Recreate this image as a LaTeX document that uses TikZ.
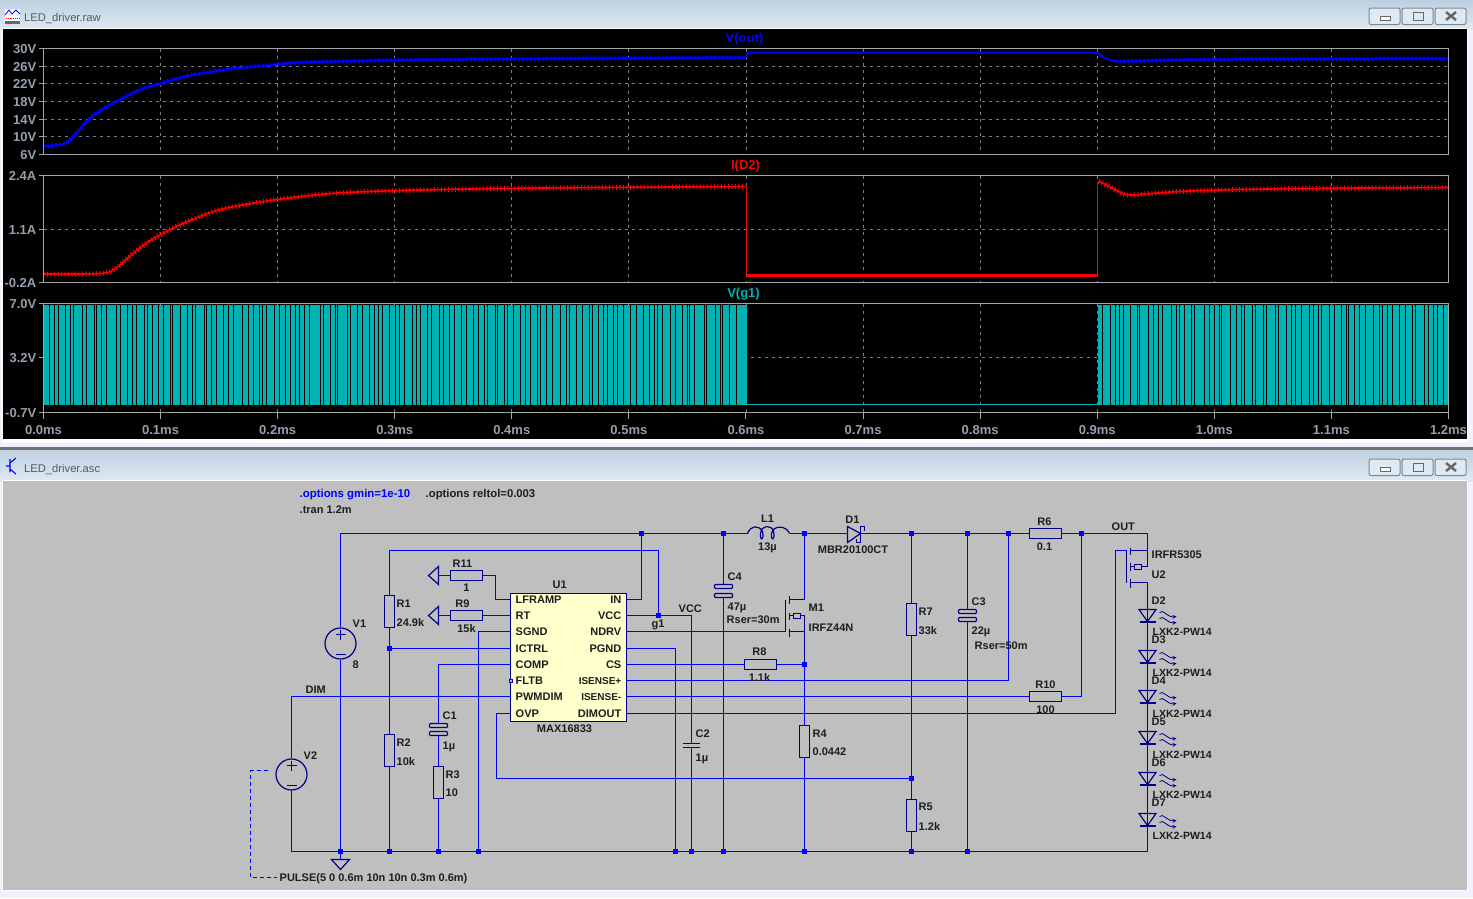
\documentclass[tikz,border=0pt]{standalone}
\usepackage{fontspec}
\setmainfont{Liberation Sans}
\definecolor{wirec}{RGB}{0,0,255}
\definecolor{compc}{RGB}{0,0,140}
\definecolor{txtc}{RGB}{30,30,30}
\definecolor{axisc}{RGB}{150,160,172}
\definecolor{gridc}{RGB}{125,125,125}
\definecolor{framec}{RGB}{165,165,165}
\definecolor{paper}{RGB}{191,191,191}
\definecolor{chipc}{RGB}{255,255,204}
\definecolor{tealc}{RGB}{0,178,178}
\definecolor{barhi}{RGB}{190,208,224}
\definecolor{barlo}{RGB}{222,233,243}
\newcommand{\narrowfont}{\fontsize{10}{12}\selectfont\bfseries}
\tikzset{
	wire/.style={draw=wirec,line width=1.8pt},
	comp/.style={draw=compc,line width=1.2pt},
	dot/.style={rectangle,fill=wirec,minimum size=5pt,inner sep=0pt},
	resv/.style={comp,rectangle,minimum width=10pt,minimum height=32pt,inner sep=0pt},
	resh/.style={comp,rectangle,minimum width=32pt,minimum height=10pt,inner sep=0pt},
	plate/.style={comp,rectangle,rounded corners=1pt,minimum width=18pt,minimum height=4pt,inner sep=0pt},
	src/.style={comp,circle,minimum size=31pt,inner sep=0pt},
	txt/.style={font=\fontsize{11}{12}\selectfont\bfseries,inner sep=0pt,text=txtc,anchor=west,yshift=-.7pt},
	txc/.style={txt,anchor=center},
	axl/.style={font=\fontsize{13}{14}\selectfont\bfseries,inner sep=0pt,text=axisc,yshift=-.5pt},
	ttl/.style={font=\fontsize{13}{14}\selectfont\bfseries,inner sep=0pt,anchor=center,yshift=-1pt},
	wtitle/.style={font=\fontsize{11.2}{12}\selectfont,inner sep=0pt,text=black!65,anchor=west,yshift=-1.5pt},
	winbtn/.style={draw=black!35!barhi,line width=1pt,rounded corners=2pt,fill=barlo},
	griddash/.style={draw=gridc,line width=.9pt,dash pattern=on 3pt off 4pt},
}
\begin{document}
\begin{tikzpicture}[x=1pt,y=-1pt]
	\useasboundingbox (0,0) rectangle (1473,898);
	% window frames
	\fill[barlo!80!blue!20!white] (0,0) rectangle (1473,898);
	\shade[top color=barhi,bottom color=barlo] (0,0) rectangle (1473,29);
	\shade[top color=barhi,bottom color=barlo] (0,449) rectangle (1473,481);
	\fill[black!55] (0,447) rectangle (1473,449.5);
	\fill[white] (2,28) rectangle (1468,443);
	\fill[black] (3,29) rectangle (1467,439);
	\fill[white] (2,480) rectangle (1468,891);
	\fill[paper] (3,481) rectangle (1467,890);
	\node[wtitle] (titleraw) at (24,17) {LED\_driver.raw};
	\node[wtitle] (titleasc) at (24,468) {LED\_driver.asc};
	\foreach \y in {8,459}{
		\draw[winbtn] (1369,\y) rectangle (1400,\y+16.5);
		\draw[winbtn] (1402,\y) rectangle (1433,\y+16.5);
		\draw[winbtn] (1435,\y) rectangle (1466,\y+16.5);
		\fill[white,draw=black!60] (1380,\y+8) rectangle (1390,\y+12);
		\draw[white,fill=none,line width=1pt,draw=black!60] (1413,\y+4) rectangle (1423,\y+12);
		\draw[black!60,line width=2.4pt] (1446,\y+4) -- (1456,\y+12) (1446,\y+12) -- (1456,\y+4);
	}
	% window icons
	\fill[white] (5,9) rectangle (20,22);
	\draw[blue,line width=.8pt] (5,15) -- (9,10) -- (12,14) -- (16,10) -- (20,14);
	\draw[red,densely dotted,line width=.8pt] (6,18) -- (20,18);
	\fill[black!60] (5,21) rectangle (20,24);
	\draw[wirec,line width=1.1pt] (10,459) -- (10,472) (6,466) -- (10,466) (10,463) -- (16,458) (10,469) -- (16,474);
	\begin{scope}[shift={(0.5,0.5)}]
	% plot frames and grid
	\foreach \ya/\yb in {48/154,175/282,303/412}{
		\foreach \k in {1,...,11}{
			\draw[griddash] (43+117.08*\k,\ya) -- (43+117.08*\k,\yb);
		}
	}
	\foreach \y in {66,83,101,119,136,229,357}{
		\draw[griddash] (43,\y) -- (1448,\y);
	}
	\foreach \y in {48,66,83,101,119,136,154,175,229,282,303,357,412}{
		\draw[framec,line width=1pt] (38,\y) -- (43,\y);
	}
	\foreach \k in {0,...,12}{
		\draw[framec,line width=1pt] (43+117.08*\k,412) -- (43+117.08*\k,418);
	}
	% V(out)
	\draw[blue,line width=2pt] plot[smooth] coordinates {(43,146) (63,143.5) (72,137) (87,120) (103,108) (120,99) (140,89) (160,83) (180,77) (200,73) (233,68) (267,65) (300,62) (400,59.5) (500,58.5) (745,57)};
	\draw[blue,line width=4pt,dash pattern=on 1.5pt off 2.5pt] plot[smooth] coordinates {(43,146) (63,143.5) (72,137) (87,120) (103,108) (120,99) (140,89) (160,83) (180,77) (200,73) (233,68) (267,65) (300,62) (400,59.5) (500,58.5) (745,57)};
	\draw[blue,line width=2pt] (745,57) -- (748,52) -- (1097,52) -- (1103,57) -- (1115,61);
	\draw[blue,line width=2pt] plot[smooth] coordinates {(1115,61) (1135,60.5) (1200,59) (1300,58.5) (1448,58)};
	\draw[blue,line width=4pt,dash pattern=on 1.5pt off 2.5pt] plot[smooth] coordinates {(1115,61) (1135,60.5) (1200,59) (1300,58.5) (1448,58)};
	% I(D2)
	\draw[red,line width=1.6pt] plot[smooth] coordinates {(43,273.5) (100,273) (115,268) (130,255) (150,240) (180,224) (220,209) (270,200) (330,193) (400,190) (500,188) (600,187) (745,186)};
	\draw[red,line width=5pt,dash pattern=on 1pt off 2.5pt] plot[smooth] coordinates {(43,273.5) (100,273) (115,268) (130,255) (150,240) (180,224) (220,209) (270,200) (330,193) (400,190) (500,188) (600,187) (745,186)};
	\draw[red,line width=1.6pt] (746,186) -- (746,275);
	\draw[red,line width=2.4pt] (746,275) -- (1097,275);
	\draw[red,line width=1.6pt] (1097,275) -- (1097,181);
	\draw[red,line width=1.6pt] plot[smooth] coordinates {(1098,181) (1105,184) (1120,192) (1130,194.5) (1150,193) (1200,190) (1300,188) (1448,187)};
	\draw[red,line width=5pt,dash pattern=on 1pt off 2.5pt] plot[smooth] coordinates {(1098,181) (1105,184) (1120,192) (1130,194.5) (1150,193) (1200,190) (1300,188) (1448,187)};
	% V(g1)
	\fill[tealc] (43,304) rectangle (746,404);
	\fill[tealc] (1097,304) rectangle (1448,404);
	\draw[tealc,line width=1.6pt] (746,404) -- (1097,404);
	\pgfmathsetseed{73}
	\foreach \k in {0,...,125}{
		\pgfmathsetmacro\xg{45+5.5*\k+rnd*5}
		\draw[black,line width=.7pt] (\xg,304) -- (\xg,404);
	}
	\foreach \k in {0,...,62}{
		\pgfmathsetmacro\xg{1100+5.5*\k+rnd*5}
		\draw[black,line width=.7pt] (\xg,304) -- (\xg,404);
	}
	\foreach \ya/\yb in {48/154,175/282,303/412}{
		\draw[framec,line width=1pt] (43,\ya) rectangle (1448,\yb);
	}
	% axis labels
	\foreach \y/\lab in {48/30V,66/26V,83/22V,101/18V,119/14V,136/10V,154/6V,175/2.4A,229/1.1A,282/-0.2A,303/7.0V,357/3.2V,412/-0.7V}{
		\node[axl,anchor=east] (ax\y) at (36,\y) {\lab};
	}
	\foreach \k/\lab in {0/0.0ms,1/0.1ms,2/0.2ms,3/0.3ms,4/0.4ms,5/0.5ms,6/0.6ms,7/0.7ms,8/0.8ms,9/0.9ms,10/1.0ms,11/1.1ms,12/1.2ms}{
		\node[axl] (tick\k) at (43+117.08*\k,429) {\lab};
	}
	\node[ttl,text=blue] (tout) at (744,38) {V(out)};
	\node[ttl,text=red] (tid) at (745,165) {I(D2)};
	\node[ttl,text=tealc] (tg) at (743,293) {V(g1)};
	% junctions
	\node[dot] (jin) at (641,533) {};
	\node[dot] (jc4) at (723,533) {};
	\node[dot] (jsw) at (804,533) {};
	\node[dot] (jr7) at (911,533) {};
	\node[dot] (jc3) at (967,533) {};
	\node[dot] (jis) at (1008,533) {};
	\node[dot] (jout) at (1081,533) {};
	\node[dot] (jr1) at (389,648) {};
	\node[dot] (jg1) at (658,615) {};
	\node[dot] (jcs) at (804,664) {};
	\node[dot] (jr5) at (911,778) {};
	\node[dot] (gv1) at (340,851) {};
	\node[dot] (gr2) at (389,851) {};
	\node[dot] (gr3) at (438,851) {};
	\node[dot] (gsg) at (478,851) {};
	\node[dot] (gpg) at (675,851) {};
	\node[dot] (gc2) at (691,851) {};
	\node[dot] (gc4) at (723,851) {};
	\node[dot] (gm1) at (804,851) {};
	\node[dot] (gr5) at (911,851) {};
	\node[dot] (gc3) at (967,851) {};
	% parts
	\node[resv] (r1) at (389,611) {};
	\node[resv] (r2) at (389,750) {};
	\node[resv] (r3) at (438,782) {};
	\node[resv] (r4) at (804,741) {};
	\node[resv] (r5) at (911,815) {};
	\node[resv] (r7) at (911,619) {};
	\node[resh] (r11) at (466,575) {};
	\node[resh] (r9) at (466,615) {};
	\node[resh] (r8) at (760,664) {};
	\node[resh] (r6) at (1045,533) {};
	\node[resh] (r10) at (1045,696) {};
	\node[plate] (c1a) at (438,725) {};
	\node[plate] (c1b) at (438,733) {};
	\node[plate] (c4a) at (723,586) {};
	\node[plate] (c4b) at (723,595) {};
	\node[plate] (c3a) at (967,611) {};
	\node[plate] (c3b) at (967,619) {};
	\node[src] (v1) at (340,643) {};
	\node[src] (v2) at (291,774) {};
	\node[comp,rectangle,fill=chipc,minimum width=116pt,minimum height=128pt,inner sep=0pt] (u1) at (568,657) {};
	\coordinate (f11) at (438,575);
	\coordinate (f9) at (438,615);
	\coordinate (cg) at (340,859);
	\coordinate (kr1) at (658,550);
	\coordinate (k11) at (495,575);
	\coordinate (k8) at (496,778);
	\coordinate (kvcc) at (691,615);
	\coordinate (c2a) at (691,743);
	\coordinate (c2b) at (691,747);
	\coordinate (m1g) at (785,631);
	\coordinate (m1d) at (804,599);
	\coordinate (l1a) at (747,533);
	\coordinate (l1b) at (789,533);
	\coordinate (d1a) at (847,533);
	\coordinate (d1k) at (860,533);
	\coordinate (kdim) at (1115,550);
	\coordinate (u2g) at (1126,550);
	\coordinate (kout) at (1147,533);
	\coordinate (u2s) at (1147,550);
	\coordinate (u2d) at (1147,582);
	\coordinate (kbr) at (1147,851);
	% pins of U1
	\foreach \n/\y/\tl/\tr in {1/599/LFRAMP/IN,2/615/RT/VCC,3/631/SGND/NDRV,4/648/ICTRL/PGND,5/664/COMP/CS,6/680/FLTB/{\narrowfont ISENSE+},7/696/PWMDIM/{\narrowfont ISENSE-},8/713/OVP/DIMOUT}{
		\coordinate (pl\n) at (510,\y);
		\coordinate (pr\n) at (626,\y);
		\node[txt] (tl\n) at (515,\y) {\tl};
		\node[txt,anchor=east] (tr\n) at (621,\y) {\tr};
	}
	\draw[draw=wirec,fill=paper,line width=.8pt] (509,679) rectangle (512,682);
	% wires
	\draw[wire] (v1.north) |- (jin) -- (jc4) -- (l1a);
	\draw[wire] (l1b) -- (jsw) -- (d1a);
	\draw[wire] (d1k) -- (jr7) -- (jc3) -- (jis) -- (r6.west);
	\draw[wire] (r6.east) -- (jout) -- (kout) -- (u2s);
	\draw[wire] (v1.south) -- (gv1);
	\draw[wire] (r1.north) |- (kr1) -- (jg1);
	\draw[wire] (r1.south) -- (jr1) -- (r2.north);
	\draw[wire] (r2.south) -- (gr2);
	\draw[wire] (f11) -- (r11.west);
	\draw[wire] (f9) -- (r9.west);
	\draw[wire] (r11.east) -- (k11) |- (pl1);
	\draw[wire] (r9.east) -- (pl2);
	\draw[wire] (pr1) -| (jin);
	\draw[wire] (pr2) -- (jg1) -- (kvcc) -- (c2a);
	\draw[wire] (c2b) -- (gc2);
	\draw[wire] (pl3) -| (gsg);
	\draw[wire] (jr1) -- (pl4);
	\draw[wire] (pl5) -| (c1a.north);
	\draw[wire] (c1b.south) -- (r3.north);
	\draw[wire] (r3.south) -- (gr3);
	\draw[wire] (v2.north) |- (pl7);
	\draw[wire] (v2.south) |- (gv1) -- (gr2) -- (gr3) -- (gsg) -- (gpg) -- (gc2) -- (gc4) -- (gm1) -- (gr5) -- (gc3) -- (kbr);
	\draw[wire] (gv1) -- (cg);
	\draw[wire] (pl8) -| (k8) -- (jr5);
	\draw[wire] (pr3) -- (m1g);
	\draw[wire] (pr4) -| (gpg);
	\draw[wire] (pr5) -- (r8.west);
	\draw[wire] (r8.east) -- (jcs);
	\draw[wire] (pr6) -| (jis);
	\draw[wire] (pr7) -- (r10.west);
	\draw[wire] (r10.east) -| (jout);
	\draw[wire] (pr8) -| (kdim) -- (u2g);
	\draw[wire] (jc4) -- (c4a.north);
	\draw[wire] (c4b.south) -- (gc4);
	\draw[wire] (jc3) -- (c3a.north);
	\draw[wire] (c3b.south) -- (gc3);
	\draw[wire] (jsw) -- (m1d);
	\draw[wire] (jcs) -- (r4.north);
	\draw[wire] (r4.south) -- (gm1);
	\draw[wire] (jr7) -- (r7.north);
	\draw[wire] (r7.south) -- (jr5) -- (r5.north);
	\draw[wire] (r5.south) -- (gr5);
	\draw[wire] (1147,825) -- (kbr);
	% symbols
	\draw[comp] (682,743) -- (699,743) (682,747) -- (699,747);
	\foreach \y in {575,615}{
		\draw[comp] (438,\y-9) -- (428,\y) -- (438,\y+9) -- cycle;
	}
	\draw[comp] (331,859) -- (349,859) -- (340,869) -- cycle;
	\foreach \y in {643,774}{
		\pgfmathsetmacro\xs{\y<700 ? 340 : 291}
		\draw[comp] (\xs-5,\y-9) -- (\xs+5,\y-9) (\xs,\y-14) -- (\xs,\y-4) (\xs-5,\y+11) -- (\xs+5,\y+11);
	}
	\draw[wirec,line width=1.2pt,dash pattern=on 4pt off 3pt] (267,770) -- (250,770) -- (250,877) -- (276,877);
	\draw[comp] (747,533) .. controls (750,525) and (758,524) .. (762,531) .. controls (764,540) and (759,541) .. (760,533) .. controls (761,524) and (771,524) .. (773,531) .. controls (775,540) and (770,541) .. (771,533) .. controls (773,524) and (786,525) .. (789,533);
	\draw[comp] (847,526) -- (860,533) -- (847,542) -- cycle;
	\draw[comp] (864,530) -- (864,526) -- (860,526) -- (860,542) -- (856,542) -- (856,538);
	% M1
	\draw[comp] (785,599) -- (785,631);
	\draw[comp] (789,595) -- (789,603) (789,612) -- (789,619) (789,628) -- (789,636);
	\draw[comp] (789,599) -- (804,599) (789,631) -- (804,631) -- (804,615) -- (800,615);
	\draw[comp] (804,631) -- (jcs);
	\draw[comp,line width=.9pt] (789,615) -- (793,615) (793,613) -- (800,613) -- (800,618) -- (793,618) -- cycle;
	% U2
	\draw[comp] (1126,550) -- (1126,582);
	\draw[comp] (1130,547) -- (1130,554) (1130,562) -- (1130,570) (1130,578) -- (1130,587);
	\draw[comp] (1130,550) -- (1147,550) -- (1147,566) -- (1141,566) (1130,582) -- (1147,582);
	\draw[comp,line width=.9pt] (1130,566) -- (1134,566) (1134,564) -- (1141,564) -- (1141,569) -- (1134,569) -- cycle;
	% LEDs
	\draw[comp] (u2d) -- (1147,609);
	\foreach \n/\y in {2/609,3/650,4/690,5/731,6/772,7/813}{
		\draw[comp] (1138.5,\y) -- (1155.5,\y) -- (1147,\y+12) -- cycle;
		\draw[comp] (1139,\y+12.5) -- (1155,\y+12.5);
		\draw[comp] (1147,\y) -- (1147,\y+12.5);
		\draw[compc,line width=.8pt,->,>=stealth] (1159,\y+3) .. controls (1163,\y-1) and (1166,\y+8) .. (1176,\y+7);
		\draw[compc,line width=.8pt,->,>=stealth] (1159,\y+9) .. controls (1163,\y+5) and (1166,\y+14) .. (1176,\y+13);
	}
	\foreach \ya/\yb in {622/650,663/690,703/731,744/772,785/813}{
		\draw[comp] (1147,\ya) -- (1147,\yb);
	}
	% labels
	\node[txt,text=wirec,font=\fontsize{11.4}{12}\selectfont\bfseries] (optg) at (299,493) {.options gmin=1e-10};
	\node[txt,font=\fontsize{11.3}{12}\selectfont\bfseries] (optr) at (425,493) {.options reltol=0.003};
	\node[txt] (tran) at (299,509) {.tran 1.2m};
	\node[txt] (lu1) at (552,584) {U1};
	\node[txc] (lmax) at (564,728) {MAX16833};
	\node[txc] (lr11) at (462,563) {R11};
	\node[txc] (vr11) at (466,587) {1};
	\node[txc] (lr9) at (462,603) {R9};
	\node[txc] (vr9) at (466,627) {15k};
	\node[txt] (lr1) at (396,603) {R1};
	\node[txt] (vr1) at (396,621) {24.9k};
	\node[txt] (lr2) at (396,741) {R2};
	\node[txt] (vr2) at (396,760) {10k};
	\node[txt] (lc1) at (442,715) {C1};
	\node[txt] (vc1) at (442,746) {1µ};
	\node[txt] (lr3) at (445,774) {R3};
	\node[txt] (vr3) at (445,792) {10};
	\node[txt] (lv1) at (352,623) {V1};
	\node[txt] (vv1) at (352,664) {8};
	\node[txt] (lv2) at (303,754) {V2};
	\node[txt] (ldim) at (305,689) {DIM};
	\node[txt] (vv2) at (279,877) {PULSE(5 0 0.6m 10n 10n 0.3m 0.6m)};
	\node[txt] (lvcc) at (678,608) {VCC};
	\node[txt] (lg1) at (651,624) {g1};
	\node[txt] (lc2) at (695,733) {C2};
	\node[txt] (vc2) at (695,758) {1µ};
	\node[txc] (ll1) at (767,518) {L1};
	\node[txc] (vl1) at (767,547) {13µ};
	\node[txc] (ld1) at (852,519) {D1};
	\node[txc] (vd1) at (852.5,549) {MBR20100CT};
	\node[txt] (lc4) at (727,576) {C4};
	\node[txt] (vc4) at (727,607) {47µ};
	\node[txt] (sc4) at (726,619) {Rser=30m};
	\node[txt] (lm1) at (808,607) {M1};
	\node[txt] (vm1) at (808,627) {IRFZ44N};
	\node[txc] (lr8) at (759,651) {R8};
	\node[txc] (vr8) at (759,676) {1.1k};
	\node[txt] (lr4) at (812,733) {R4};
	\node[txt] (vr4) at (812,751) {0.0442};
	\node[txt] (lr7) at (918,611) {R7};
	\node[txt] (vr7) at (918,629) {33k};
	\node[txt] (lc3) at (971,601) {C3};
	\node[txt] (vc3) at (971,631) {22µ};
	\node[txt] (sc3) at (974,645) {Rser=50m};
	\node[txt] (lr5) at (918,806) {R5};
	\node[txt] (vr5) at (918,825) {1.2k};
	\node[txc] (lr6) at (1044,521) {R6};
	\node[txc] (vr6) at (1044,546) {0.1};
	\node[txc] (lr10) at (1045,684) {R10};
	\node[txc] (vr10) at (1045,709) {100};
	\node[txt] (lout) at (1111,526) {OUT};
	\node[txt] (vu2) at (1151,554) {IRFR5305};
	\node[txt] (lu2) at (1151,574) {U2};
	\foreach \n/\yl/\yv in {2/599/631,3/639/672,4/680/713,5/721/754,6/762/794,7/802/835}{
		\node[txt] (ld\n) at (1151,\yl) {D\n};
		\node[txt,font=\fontsize{10.5}{12}\selectfont\bfseries] (vd\n) at (1152,\yv) {LXK2-PW14};
	}
	\end{scope}
\end{tikzpicture}
\end{document}
